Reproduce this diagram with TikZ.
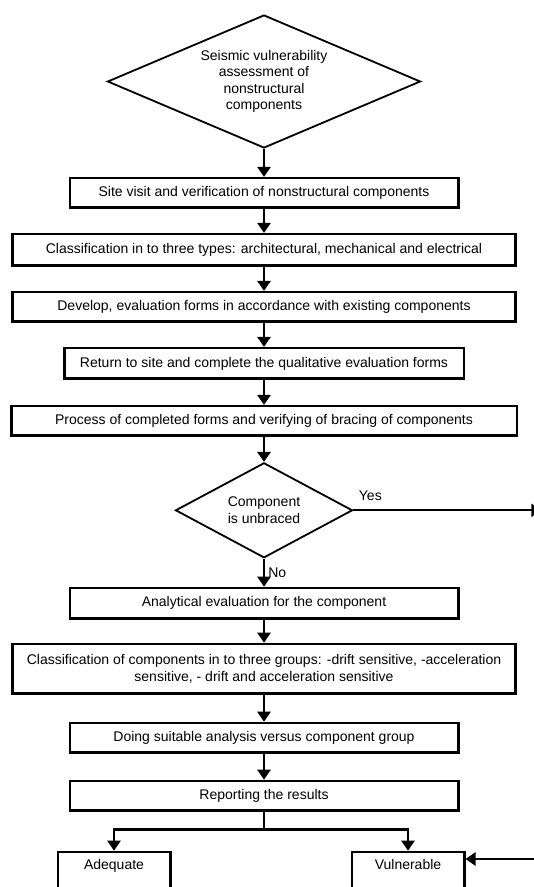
\documentclass[tikz,border=0pt]{standalone}
\usepackage{fontspec}
\setmainfont{Liberation Sans}
\usetikzlibrary{positioning,arrows.meta,shapes.geometric}
\tikzset{
  stage/.style={rectangle, draw=black, line width=2.5pt, fill=white,
                minimum height=29.5pt, align=center, inner sep=2pt,
                font=\fontsize{14}{16.5}\selectfont},
  wide/.style={stage, minimum width=503pt},
  mid/.style={stage, minimum width=388.5pt},
  decision/.style={diamond, draw=black, line width=1.8pt, align=center,
                   inner sep=0pt, font=\fontsize{14}{16.5}\selectfont},
  result/.style={stage, text height=13pt, text depth=45pt, inner ysep=5pt,
                 minimum width=112.5pt},
  flow/.style={-{Triangle[length=10pt,width=13pt]}, line width=2.5pt},
  lbl/.style={font=\fontsize{14}{16.5}\selectfont, inner sep=1pt},
}
\newcommand{\Stage}[3][]{%
  \node[stage,#1] (#2) {#3};}

\begin{document}
\begin{tikzpicture}[x=1pt, y=-1pt]
  \useasboundingbox (0,0) rectangle (534,887);
  \node[decision, aspect=2.3, minimum width=313pt, minimum height=133pt]
    (start) at (264,81.5)
    {Seismic vulnerability\\ assessment of\\ nonstructural\\ components};
  \Stage[mid, below=28pt of start]{site}{Site visit and verification of nonstructural components}
  \Stage[wide, below=24pt of site, minimum height=31.5pt]{types}{Classification in to three types: architectural, mechanical and electrical}
  \Stage[wide, below=24pt of types]{forms}{Develop, evaluation forms in accordance with existing components}
  \Stage[below=24pt of forms, minimum width=399.5pt, minimum height=30.5pt]{visit}{Return to site and complete the qualitative evaluation forms}
  \Stage[below=25pt of visit, minimum width=505.5pt]{process}{Process of completed forms and verifying of bracing of components}
  \node[decision, aspect=1.85, minimum width=177pt, minimum height=95pt,
        below=25pt of process] (braced) {Component\\ is unbraced};
  \Stage[mid, below=28pt of braced, minimum height=30.5pt]{analysis}{Analytical evaluation for the component}
  \Stage[wide, below=23pt of analysis, minimum height=49.5pt]{groups}{Classification of components in to three groups: -drift sensitive, -acceleration\\ sensitive, - drift and acceleration sensitive}
  \Stage[mid, below=27pt of groups]{doing}{Doing suitable analysis versus component group}
  \Stage[mid, below=26pt of doing]{report}{Reporting the results}
  \node[result, below right=39pt and -12pt of report.south west] (adequate) {Adequate};
  \node[result, below left=39pt and -6pt of report.south east] (vulnerable) {Vulnerable};

  % connectors
  \draw[flow] (start) -- (site);
  \draw[flow] (site) -- (types);
  \draw[flow] (types) -- (forms);
  \draw[flow] (forms) -- (visit);
  \draw[flow] (visit) -- (process);
  \draw[flow] (process) -- (braced);
  \draw[flow] (braced) -- node[lbl, right=2pt] {No} (analysis);
  \coordinate[right=188pt of braced.east] (yesend);
  \draw[flow, line width=2pt] (braced.east) -- node[lbl, above, pos=0.09, yshift=8pt] {Yes} (yesend);
  \draw[flow] (analysis) -- (groups);
  \draw[flow] (groups) -- (doing);
  \draw[flow] (doing) -- (report);
  \coordinate[below=18pt of report] (split);
  \draw[line width=2.5pt] (report.south) -- (split);
  \draw[flow] (split) -| (adequate.north);
  \draw[flow] (split) -| (vulnerable.north);
  \coordinate (vulin) at (540,859);
  \draw[flow] (vulin) -- (vulin -| vulnerable.east);
\end{tikzpicture}
\end{document}
